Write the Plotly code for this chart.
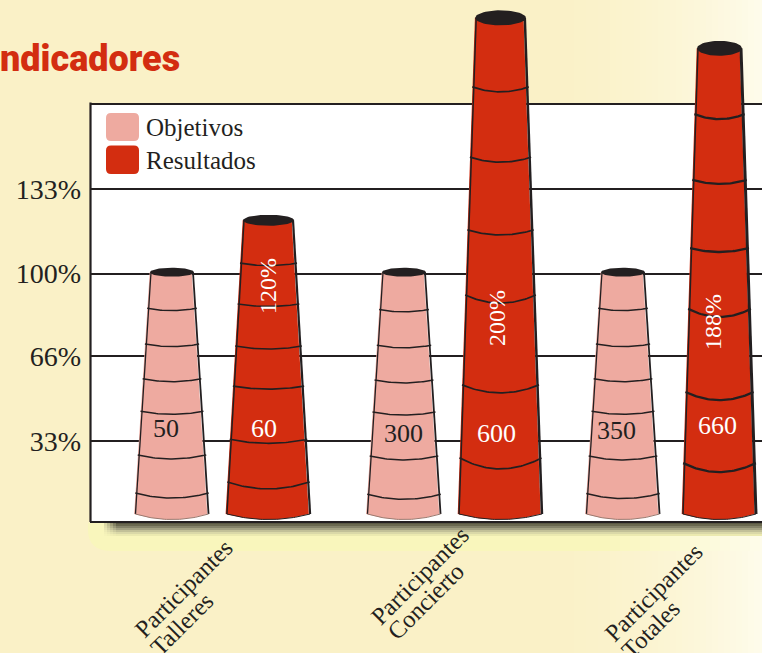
import plotly.graph_objects as go
import numpy as np

# ---- data ----
categories = ["Participantes<br>Talleres", "Participantes<br>Concierto", "Participantes<br>Totales"]
objective_counts = ["50", "300", "350"]
result_counts = ["60", "600", "660"]
result_percent_labels = ["120%", "200%", "188%"]
objective_heights = [100.5, 100.5, 100.5]      # % of objective (drawn top of the stack)
result_heights = [121.5, 203.3, 191]
# Ring levels on each stack, in % on the y axis (level at the stack's edge)
objective_rings = [
    [86, 71.5, 57.5, 44.3, 26.7, 11.3],
    [85.5, 71, 57, 44, 26.3, 10.8],
    [86, 71.5, 57.5, 44.3, 26.3, 11.1],
]
result_rings = [
    [104.2, 87.7, 70.7, 54.5, 33, 15.8],
    [175.4, 147, 117.6, 91.3, 55, 25.5],
    [164.4, 137.8, 110.3, 85.7, 52.1, 23.4],
]
tick_positions = [32.3, 66.7, 100, 134.1]
tick_labels = ["33%", "66%", "100%", "133%"]
series_names = ["Objetivos", "Resultados"]

# ---- styling / layout ----
W, H = 762, 653
L, R, T, B = 90, 762, 0, 521
FRAME_TOP = 103.5
PX_Y = 2.475                     # pixels per % on the y axis
PX_X = 225.5                     # pixels per x-axis unit
Y_TOP = (B - T) / PX_Y
FRAME_LEVEL = (B - FRAME_TOP) / PX_Y
X0_PX = 172
group_pos = [0, 232 / PX_X, 451 / PX_X]
result_offset = 96.5 / PX_X
obj_half = (21, 37)              # top / bottom half width in px
res_half = [(24.5, 42), (24.3, 41.7), (21.5, 36.7)]
obj_sag = [2.5, 2.5, 3, 3, 4, 5]   # ring curvature in px
res_sag = [[2.5, 2.5, 3, 3, 4, 7], [5, 5, 5, 8, 8, 11], [5, 4, 4, 8, 8, 9]]
LIGHT, RED, INK = "#EEAAA0", "#D32D10", "#231F20"
SERIF = "Liberation Serif"


def pxx(x):
    return (x - L) / (R - L)


def pxy(y):
    return (B - y) / (B - T)


def half_at(level, height, halves):
    f = level / height
    return (halves[1] + (halves[0] - halves[1]) * f) / PX_X


def mix(c0, c1, f):
    a = [int(c0[i:i + 2], 16) for i in (1, 3, 5)]
    b = [int(c1[i:i + 2], 16) for i in (1, 3, 5)]
    return "#%02X%02X%02X" % tuple(round(p + (q - p) * f) for p, q in zip(a, b))


fig = go.Figure()


def add_stack(cx, height, rings, sags, halves, color, ell_h, lw_left, lw_right, lw_ring):
    unit = 1 / PX_X
    sag_b = 5.5 / PX_Y
    bottom = 0.6 + sag_b
    t = np.linspace(-1, 1, 41)
    hb = half_at(bottom, height, halves)
    ht = half_at(height, height, halves)
    base_x = cx + hb * t
    base_y = bottom - sag_b * (1 - t ** 2)
    fx = np.r_[cx - ht, base_x, cx + ht] - 1.3 * unit
    fy = np.r_[height, base_y, height]
    fig.add_trace(go.Scatter(x=fx, y=fy, mode="lines", fill="toself", fillcolor=color,
                             line=dict(width=0, color=color), showlegend=False, hoverinfo="skip"))
    fig.add_trace(go.Scatter(x=[cx - ht, cx - hb], y=[height, bottom], mode="lines",
                             line=dict(color=INK, width=lw_left), showlegend=False, hoverinfo="skip"))
    fig.add_trace(go.Scatter(x=[cx + ht, cx + hb], y=[height, bottom], mode="lines",
                             line=dict(color=INK, width=lw_right), showlegend=False, hoverinfo="skip"))
    fig.add_trace(go.Scatter(x=base_x, y=base_y, mode="lines",
                             line=dict(color=INK if color == RED else "#9a7a70", width=1),
                             showlegend=False, hoverinfo="skip"))
    for lev, s in zip(rings, sags):
        hw = half_at(lev, height, halves) + 1.5 * unit
        rx = cx + hw * t
        ry = lev - s / PX_Y * (1 - t ** 2)
        fig.add_trace(go.Scatter(x=rx, y=ry, mode="lines", line=dict(color=INK, width=lw_ring),
                                 showlegend=False, hoverinfo="skip"))
    a = np.linspace(0, 2 * np.pi, 61)
    fig.add_trace(go.Scatter(x=cx + (ht + 1 * unit) * np.cos(a), y=height + ell_h / PX_Y * np.sin(a),
                             mode="lines", fill="toself", fillcolor=INK, line=dict(width=0, color=INK),
                             showlegend=False, hoverinfo="skip"))


for i in range(3):
    add_stack(group_pos[i], objective_heights[i], objective_rings[i], obj_sag, obj_half, LIGHT, 4.5, 1.3, 1.8, 1.5)
    add_stack(group_pos[i] + result_offset, result_heights[i], result_rings[i], res_sag[i], res_half[i], RED,
              [5.5, 7.5, 7.5][i], 1.5, [2.2, 2.5, 3][i], [1.6, 1.7, 2.3][i])

shapes = []
# page gradient on the right
PAGE = "#FAF1C7"
for x0 in range(520, W, 6):
    f = ((x0 - 520) / (W - 520)) ** 2
    shapes.append(dict(type="rect", xref="paper", yref="paper", x0=pxx(x0), x1=pxx(x0 + 7), y0=pxy(H), y1=pxy(0),
                       fillcolor=mix(PAGE, "#FEFCEC", f), line_width=0, layer="below"))
# soft pale glow below the frame
shapes.append(dict(type="path", xref="paper", yref="paper",
                   path=f"M {pxx(88)} {pxy(523)} L {pxx(600)} {pxy(523)} L {pxx(600)} {pxy(551)} L {pxx(112)} {pxy(551)} "
                        f"Q {pxx(88)} {pxy(551)} {pxx(88)} {pxy(530)} Z",
                   fillcolor="#F9F6BC", line_width=0, layer="below"))
for x0 in range(600, W, 10):
    f = (x0 - 600) / (W - 600)
    shapes.append(dict(type="rect", xref="paper", yref="paper", x0=pxx(x0), x1=pxx(x0 + 11), y0=pxy(551), y1=pxy(523),
                       fillcolor=mix("#F9F6BC", "#FEFCEC", f), line_width=0, layer="below"))
# drop shadow
shadow = [(522, "#5A5844"), (524, "#6B6950"), (526, "#85836A"), (528, "#A3A182"), (530, "#C2C098"),
          (532, "#DAD8A8"), (534, "#EBE9B0")]
for yy, c in shadow:
    shapes.append(dict(type="rect", xref="paper", yref="paper", x0=pxx(118), x1=pxx(762), y0=pxy(yy + 2), y1=pxy(yy),
                       fillcolor=c, line_width=0, layer="below"))
    for k in range(5):
        shapes.append(dict(type="rect", xref="paper", yref="paper", x0=pxx(104 + 3 * k), x1=pxx(107 + 3 * k),
                           y0=pxy(yy + 2), y1=pxy(yy), fillcolor=mix("#F9F6BC", c, (k + 1) / 5),
                           line_width=0, layer="below"))
# white panel and frame
shapes.append(dict(type="rect", xref="paper", yref="paper", x0=0, x1=1, y0=0, y1=pxy(FRAME_TOP),
                   fillcolor="white", line_width=0, layer="below"))
shapes.append(dict(type="line", xref="paper", yref="paper", x0=pxx(90.5), x1=pxx(90.5), y0=pxy(522), y1=pxy(FRAME_TOP - 1),
                   line=dict(color=INK, width=2.2), layer="below"))
# legend swatches
for (y0, y1), c in zip([(113, 141), (145.5, 174)], [LIGHT, RED]):
    x0, x1, r = 106, 139, 5
    p = (f"M {pxx(x0 + r)} {pxy(y0)} L {pxx(x1 - r)} {pxy(y0)} Q {pxx(x1)} {pxy(y0)} {pxx(x1)} {pxy(y0 + r)} "
         f"L {pxx(x1)} {pxy(y1 - r)} Q {pxx(x1)} {pxy(y1)} {pxx(x1 - r)} {pxy(y1)} "
         f"L {pxx(x0 + r)} {pxy(y1)} Q {pxx(x0)} {pxy(y1)} {pxx(x0)} {pxy(y1 - r)} "
         f"L {pxx(x0)} {pxy(y0 + r)} Q {pxx(x0)} {pxy(y0)} {pxx(x0 + r)} {pxy(y0)} Z")
    shapes.append(dict(type="path", xref="paper", yref="paper", path=p, fillcolor=c, line_width=0, layer="above"))

ann = []


def text(s, x, y, size, color=INK, angle=0, anchor="center", family=SERIF, weight=None):
    font = dict(family=family, size=size, color=color)
    if weight:
        font["weight"] = weight
    ann.append(dict(text=s, x=pxx(x), y=pxy(y), xref="paper", yref="paper", showarrow=False, xanchor=anchor,
                    yanchor="middle", textangle=angle, font=font))


text("ndicadores", 181.5, 59.5, 36, color=RED, anchor="right", family="Roboto", weight=900)
text(series_names[0], 144, 127, 25, anchor="left")
text(series_names[1], 144, 160.5, 25, anchor="left")
for s, x, y in zip(objective_counts, [165.5, 403, 616], [428, 433, 430]):
    text(s, x, y, 26)
for s, x, y in zip(result_counts, [264, 496.5, 717], [428, 433, 425]):
    text(s, x, y, 26, color="white")
for s, x, y in zip(result_percent_labels, [268, 497, 713], [286, 318, 322]):
    text(s, x, y, 24, color="white", angle=-90)
line_centres = [((183, 588), (181, 624)), ((419.5, 575), (425, 601)), ((653, 592), (650, 629))]
for s, (c1, c2) in zip(categories, line_centres):
    a, b = s.split("<br>")
    text(a, c1[0], c1[1], 24.5, angle=-45)
    text(b, c2[0], c2[1], 24.5, angle=-45)

fig.update_layout(
    width=W, height=H, margin=dict(l=L, r=W - R, t=T, b=H - B),
    paper_bgcolor=PAGE, plot_bgcolor="rgba(0,0,0,0)",
    showlegend=False, shapes=shapes, annotations=ann,
    xaxis=dict(range=[(L - X0_PX) / PX_X, (R - X0_PX) / PX_X], showgrid=False, zeroline=False,
               showticklabels=False, ticks="", showline=True, linecolor=INK, linewidth=2.2,
               layer="below traces"),
    yaxis=dict(range=[0, Y_TOP], tickvals=tick_positions + [FRAME_LEVEL], ticktext=tick_labels + [""], showgrid=True,
               gridcolor=INK, gridwidth=2, zeroline=False, ticks="", showline=False,
               layer="below traces", ticklabelstandoff=8,
               tickfont=dict(family=SERIF, size=28, color=INK)),
)

fig.write_html("out.html", config=dict(displayModeBar=False),
               post_script="document.body.style.margin='0';document.body.style.overflow='hidden';")
